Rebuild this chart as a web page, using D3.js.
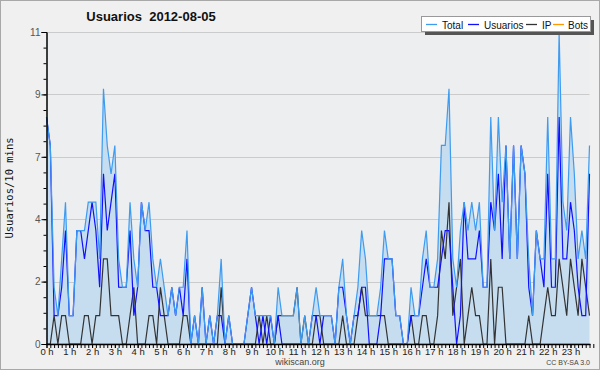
<!DOCTYPE html>
<html><head><meta charset="utf-8">
<script src="https://cdn.jsdelivr.net/npm/d3@7/dist/d3.min.js"></script>
<style>
body{margin:0;padding:0;background:#fff;}
svg{display:block;}
</style></head>
<body>
<svg id="chart" width="600" height="370"></svg>
<script>
// 10-minute slots, 0h00 .. 23h50
const usuarios = [8,7,1,1,2,4,1,1,4,4,3,4,5,4,2,6,4,5,6,2,2,2,4,1,2,5,4,4,2,2,1,1,1,2,1,2,1,3,0,1,0,2,0,1,0,1,1,0,
  1,0,0,0,0,1,2,1,0,1,0,1,0,1,0,0,0,0,0,0,0,0,1,1,0,1,1,1,0,2,2,1,0,1,1,2,2,0,0,0,1,3,3,3,1,1,0,0,
  1,1,1,2,3,2,2,2,3,4,4,2,0,1,5,3,3,3,4,2,2,5,4,6,3,7,3,7,3,7,6,2,1,4,3,2,6,2,2,8,3,3,5,4,2,1,1,6];
const ip = [0,0,1,0,1,1,0,0,0,0,1,1,0,1,1,3,3,1,1,1,0,0,1,2,0,0,0,1,1,0,2,1,0,0,0,0,1,1,0,0,0,0,0,0,0,0,2,0,
  0,0,0,0,0,0,0,0,1,0,1,0,0,1,1,1,1,1,2,0,1,0,0,1,1,0,0,0,0,0,1,0,0,0,1,2,1,1,1,1,1,1,0,0,0,0,0,0,
  1,0,0,1,1,0,0,1,4,3,5,1,2,3,0,1,2,1,1,0,0,3,0,2,2,0,0,0,0,0,0,1,0,0,0,1,2,1,1,3,2,1,3,2,1,3,2,1];
const bots = new Array(144).fill(0);
const total = usuarios.map((u,i)=>u+ip[i]+bots[i]);
const hours = d3.range(0,24);
const yTicks = [0,2.2,4.4,6.6,8.8,11];
const seriesNames = ["Total","Usuarios","IP","Bots"];
const seriesColors = ["#3d9bf0","#1010ff","#333333","#ff9900"];

const svg = d3.select("#chart");
const W=600,H=370;
const m = {left:46.5,right:589.5,top:32,bottom:344};
const F = "Liberation Sans, Arial, sans-serif";

svg.append("rect").attr("x",0.5).attr("y",0.5).attr("width",W-1).attr("height",H-1)
  .attr("fill","#f0f0f0").attr("stroke","#a8a8a8");
svg.append("rect").attr("x",m.left).attr("y",m.top).attr("width",m.right-m.left).attr("height",m.bottom-m.top)
  .attr("fill","#eceef0");

const x = d3.scaleLinear().domain([0,143*10]).range([m.left,m.right]);
const y = d3.scaleLinear().domain([0,11]).range([m.bottom,m.top]);

// grid
svg.append("g").selectAll("line").data(yTicks.slice(1)).join("line")
  .attr("x1",m.left).attr("x2",m.right).attr("y1",d=>Math.round(y(d))+0.5).attr("y2",d=>Math.round(y(d))+0.5)
  .attr("stroke","#cbcbcb").attr("stroke-width",1);

const pts = d3.range(144);
const area = d3.area().x(i=>x(i*10)).y0(y(0)).y1(i=>y(total[i]));
svg.append("path").datum(pts).attr("d",area).attr("fill","#c6ddf0");

function line(arr,color){
  svg.append("path").datum(pts)
   .attr("d",d3.line().x(i=>x(i*10)).y(i=>y(arr[i])))
   .attr("fill","none").attr("stroke",color).attr("stroke-width",1.2);
}
line(bots,seriesColors[3]);
line(ip,seriesColors[2]);
line(usuarios,seriesColors[1]);
line(total,seriesColors[0]);

// y axis
const yMinor = d3.range(0,21).map(k=>k*11/20);
const gyMinor = svg.append("g").attr("transform",`translate(${m.left},0)`)
  .call(d3.axisLeft(y).tickValues(yMinor).tickSize(3).tickFormat(""));
const gy = svg.append("g").attr("transform",`translate(${m.left},0)`)
  .call(d3.axisLeft(y).tickValues(yTicks).tickSize(5).tickPadding(1).tickFormat(d=>Math.round(d)));
[gy,gyMinor].forEach(g=>{g.select(".domain").attr("stroke","#000");g.selectAll("line").attr("stroke","#000");});
gy.selectAll("text").attr("font-family",F).attr("font-size",10).attr("fill","#555");

// x axis
const xMinor = d3.range(0,145).map(k=>k*10);
const gxMinor = svg.append("g").attr("transform",`translate(0,${m.bottom})`)
  .call(d3.axisBottom(x).tickValues(xMinor).tickSize(4).tickFormat(""));
const gx = svg.append("g").attr("transform",`translate(0,${m.bottom})`)
  .call(d3.axisBottom(x).tickValues(hours.map(h=>h*60)).tickSize(4).tickPadding(0).tickFormat(d=>(d/60)+" h"));
gxMinor.select(".domain").attr("d",`M${m.left},0.5H${m.right+1}`);
[gx,gxMinor].forEach(g=>{g.select(".domain").attr("stroke","#000").attr("stroke-width",1.5);g.selectAll("line").attr("stroke","#000");});
gx.select(".domain").remove();
gx.selectAll("text").attr("font-family",F).attr("font-size",9.5).attr("fill","#222");

// titles
svg.append("text").attr("x",151).attr("y",21).attr("text-anchor","middle")
  .attr("font-family",F).attr("font-weight","bold").attr("font-size",13)
  .attr("fill","#111").style("white-space","pre").text("Usuarios  2012-08-05");
svg.append("text").attr("transform","translate(13,188) rotate(-90)").attr("text-anchor","middle")
  .attr("font-family","DejaVu Sans Mono, monospace").attr("font-size",10.5).attr("fill","#111").text("Usuarios/10 mins");
svg.append("text").attr("x",300).attr("y",365).attr("text-anchor","middle")
  .attr("font-family",F).attr("font-size",9).attr("fill","#444").text("wikiscan.org");
svg.append("text").attr("x",590).attr("y",365).attr("text-anchor","end")
  .attr("font-family",F).attr("font-size",7).attr("fill","#444").text("CC BY-SA 3.0");

// legend
const lg = svg.append("g");
lg.append("rect").attr("x",425).attr("y",20).attr("width",169).attr("height",15).attr("fill","#555");
lg.append("rect").attr("x",421.5).attr("y",16.5).attr("width",169).attr("height",15).attr("fill","#fff").attr("stroke","#999");
const lx = [426,468,526,553];
const tx = [442,484,542,568];
seriesNames.forEach((n,i)=>{
  lg.append("line").attr("x1",lx[i]).attr("x2",lx[i]+11).attr("y1",24.5).attr("y2",24.5)
    .attr("stroke",seriesColors[i]).attr("stroke-width",1.3);
  lg.append("text").attr("x",tx[i]).attr("y",28.5).attr("font-family",F)
    .attr("font-size",10).attr("fill","#111").text(n);
});
</script>
</body></html>
